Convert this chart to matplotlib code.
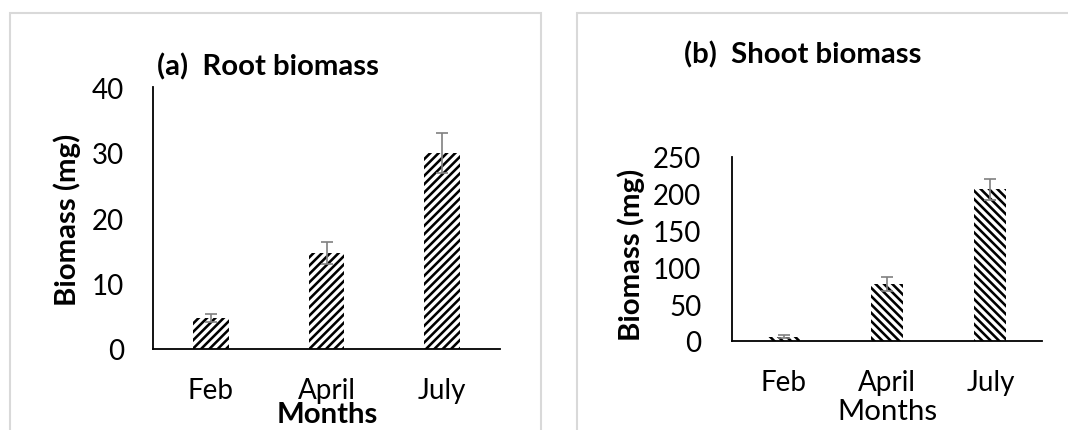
import matplotlib
matplotlib.use("Agg")
import matplotlib.pyplot as plt
from matplotlib.patches import Rectangle

# Data
months = ["Feb", "April", "July"]
root_mean = [4.7, 14.7, 29.9]
root_err = [0.6, 1.7, 3.1]
shoot_mean = [6.0, 77.5, 206.0]
shoot_err = [1.5, 9.0, 14.0]
root_ticks = [0, 10, 20, 30, 40]
shoot_ticks = [0, 50, 100, 150, 200, 250]

W, H = 1068, 431
plt.rcParams["font.family"] = ["Lato", "DejaVu Sans"]
plt.rcParams["hatch.linewidth"] = 1.85
FS_TICK = 20
FS_LAB = 21.2

fig = plt.figure(figsize=(W / 100, H / 100), dpi=100)


def px_axes(left, top, right, bottom):
    return fig.add_axes([left / W, 1 - bottom / H, (right - left) / W, (bottom - top) / H])


def fx(x):
    return x / W


def fy(y):
    return 1 - y / H


# panel frames
for x0, x1 in [(9.5, 541), (577, 1080)]:
    fig.add_artist(Rectangle((fx(x0), fy(440)), fx(x1 - x0), (440 - 14) / H,
                             transform=fig.transFigure, fill=False,
                             edgecolor="#d9d9d9", linewidth=1.5))


def style(ax, ticks, hatch, mean, err, ypad, xpad):
    x = range(len(months))
    ax.bar(x, mean, width=0.31, color="white", edgecolor="black",
           linewidth=0, hatch=hatch, zorder=2)
    ax.errorbar(x, mean, yerr=err, fmt="none", ecolor="#808080",
                elinewidth=1.2, capsize=4.3, capthick=1.2, zorder=3)
    ax.set_xlim(-0.5, len(months) - 0.5)
    ax.set_ylim(ticks[0], ticks[-1])
    ax.set_yticks(ticks)
    ax.set_xticks(list(x))
    ax.set_xticklabels(months)
    for s in ["top", "right"]:
        ax.spines[s].set_visible(False)
    for s in ["left", "bottom"]:
        ax.spines[s].set_linewidth(1.3)
    ax.tick_params(axis="both", length=0, labelsize=FS_TICK)
    ax.tick_params(axis="y", pad=ypad)
    ax.tick_params(axis="x", pad=xpad)
    ax.patch.set_alpha(0)


ax1 = px_axes(153, 88, 500, 350)
style(ax1, root_ticks, "////", root_mean, root_err, 21, 20)
ax2 = px_axes(732, 158, 1042, 342)
style(ax2, shoot_ticks, "\\\\\\\\", shoot_mean, shoot_err, 22, 20)

# titles
fig.text(fx(157), fy(67), "(a)  Root biomass", fontsize=FS_LAB, fontweight="bold",
         ha="left", va="center")
fig.text(fx(803), fy(55), "(b)  Shoot biomass", fontsize=FS_LAB, fontweight="bold",
         ha="center", va="center")

# axis labels
fig.text(fx(67), fy(220), "Biomass (mg)", fontsize=FS_LAB, fontweight="bold",
         rotation=90, ha="center", va="center")
fig.text(fx(631), fy(255), "Biomass (mg)", fontsize=FS_LAB, fontweight="bold",
         rotation=90, ha="center", va="center")
fig.text(fx(327), fy(415), "Months", fontsize=FS_LAB, fontweight="bold",
         ha="center", va="center")
fig.text(fx(887), fy(412), "Months", fontsize=FS_LAB,
         ha="center", va="center")

fig.savefig("out.png", dpi=100)
